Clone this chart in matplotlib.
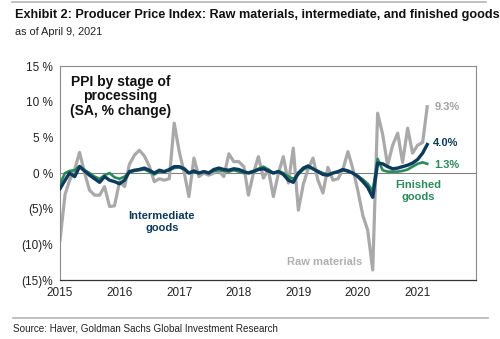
import matplotlib
matplotlib.use("Agg")
import matplotlib.pyplot as plt
import matplotlib.dates as mdates
import pandas as pd

plt.rcParams['font.family'] = ['Liberation Sans', 'DejaVu Sans']

# monthly, Jan 2015 - Mar 2021 (SA, % change)
months = pd.date_range("2015-01-01", "2021-03-01", freq="MS")

raw_materials = [
    -9.4, -3.0, -1.0, 0.5, 2.9, 0.0, -2.4, -3.1, -3.1, -1.9, -4.7, -4.6,
    -1.2, -1.9, 1.2, 2.5, 3.2, 2.4, 1.0, -1.2, -0.8, -1.0, -0.8, 7.0,
    3.0, 0.0, -3.3, 2.1, -0.5, 0.0, -0.3, 0.0, 0.3, -0.5, 2.7, 1.6,
    1.6, 0.9, -3.1, 0.0, 2.3, -0.7, 0.5, -3.3, 0.0, 2.3, -1.4, 3.5,
    -5.2, -1.5, 0.5, 2.1, -1.0, -2.8, 0.8, -1.0, -0.8, 0.5, 3.0, 0.6,
    -2.5, -6.0, -8.0, -13.6, 8.4, 5.4, 1.1, 3.9, 5.6, 1.5, 6.3, 2.8,
    3.9, 4.3, 9.3,
]
intermediate = [
    -2.2, -1.0, 0.0, -0.5, 0.9, 0.3, -0.3, -0.8, -1.3, -0.5, -1.0, -1.2,
    -1.5, -1.0, 0.2, 0.4, 0.5, 0.7, 0.4, 0.0, 0.4, 0.2, 0.5, 0.9,
    0.9, 0.6, 0.0, 0.3, 0.0, 0.2, 0.0, 0.5, 0.7, 0.5, 0.4, 0.6,
    0.5, 0.2, 0.0, 0.2, 0.5, 0.6, 0.3, 0.0, 0.2, -0.2, -1.0, -1.3,
    0.0, 0.7, 1.0, 0.6, 0.2, -0.2, -0.3, 0.0, 0.2, 0.5, 0.3, 0.0,
    -0.5, -1.2, -2.0, -3.4, 1.4, 1.3, 0.9, 0.6, 0.7, 0.9, 1.1, 1.4,
    1.9, 2.8, 4.0,
]
finished = [
    -1.5, 0.0, 0.3, 0.4, 1.0, 0.4, 0.0, -0.5, -0.8, -0.3, 0.0, -0.6,
    -0.8, -0.5, 0.1, 0.3, 0.4, 0.5, 0.2, -0.2, 0.2, 0.2, 0.4, 0.7,
    0.8, 0.5, 0.0, 0.1, 0.0, 0.2, 0.1, 0.3, 0.4, 0.3, 0.2, 0.4,
    0.2, 0.0, 0.1, 0.3, 0.6, 0.9, 0.5, 0.0, 0.3, 0.0, -0.5, -0.8,
    -0.2, 0.5, 0.8, 0.6, 0.3, 0.0, -0.2, 0.0, 0.2, 0.4, 0.2, 0.0,
    -0.4, -0.9, -1.5, -2.5, 2.0, 0.4, 0.2, 0.2, 0.2, 0.3, 0.5, 0.9,
    1.3, 1.5, 1.3,
]

years = list(range(2015, 2022))
yticks = [15, 10, 5, 0, -5, -10, -15]
ytick_labels = ["15 %", "10 %", "5 %", "0 %", "(5)%", "(10)%", "(15)%"]

GRAY = "#a9a9a9"
NAVY = "#0e3a5c"
GREEN = "#2a8a5c"

fig = plt.figure(figsize=(5.0, 3.39), dpi=100)
ax = fig.add_axes([0.12, 0.174, 0.832, 0.631])

ax.axhline(0, color="#808080", lw=0.8, zorder=1)
ax.plot(months, raw_materials, color=GRAY, lw=2.3, zorder=2)
ax.plot(months, finished, color=GREEN, lw=1.9, zorder=3)
ax.plot(months, intermediate, color=NAVY, lw=2.4, zorder=4)

ax.set_xlim(pd.Timestamp("2015-01-01"), pd.Timestamp("2021-12-25"))
ax.set_ylim(-15, 15)
ax.set_xticks([pd.Timestamp(f"{y}-01-01") for y in years])
ax.xaxis.set_major_formatter(mdates.DateFormatter("%Y"))
ax.set_yticks(yticks)
ax.set_yticklabels(ytick_labels)
ax.tick_params(length=0, labelsize=8.5, colors="#222222", pad=5)

for s in ["left", "top", "right"]:
    ax.spines[s].set_color("#8c8c8c")
    ax.spines[s].set_linewidth(0.8)
ax.spines["bottom"].set_color("#333333")
ax.spines["bottom"].set_linewidth(0.9)

# labels inside the plot
ax.text(0.145, 0.96, "PPI by stage of\nprocessing\n(SA, % change)", transform=ax.transAxes,
        ha="center", va="top", fontsize=10, fontweight="bold", color="#111111", linespacing=1.05)
ax.text(0.245, 0.27, "Intermediate\ngoods", transform=ax.transAxes, ha="center", va="center",
        fontsize=8, fontweight="bold", color=NAVY, linespacing=1.25)
ax.text(0.637, 0.085, "Raw materials", transform=ax.transAxes, ha="center", va="center",
        fontsize=8, fontweight="bold", color="#b0b0b0")
ax.text(0.862, 0.418, "Finished\ngoods", transform=ax.transAxes, ha="center", va="center",
        fontsize=8, fontweight="bold", color=GREEN, linespacing=1.25)

ax.annotate("9.3%", (months[-1], raw_materials[-1]), xytext=(5, 0), textcoords="offset points",
            ha="left", va="center", fontsize=8, fontweight="bold", color="#a0a0a0")
ax.annotate("4.0%", (months[-1], intermediate[-1]), xytext=(4, 1), textcoords="offset points",
            ha="left", va="center", fontsize=8, fontweight="bold", color=NAVY)
ax.annotate("1.3%", (months[-1], finished[-1]), xytext=(5, -1), textcoords="offset points",
            ha="left", va="center", fontsize=8, fontweight="bold", color=GREEN)

# header / footer
fig.add_artist(plt.Line2D([0.024, 0.972], [0.994, 0.994], color="#b5b5b5", lw=1.2))
fig.text(0.03, 0.957, "Exhibit 2: Producer Price Index: Raw materials, intermediate, and finished goods",
         ha="left", va="center", fontsize=9.1, fontweight="bold", color="#111111")
fig.text(0.03, 0.906, "as of April 9, 2021", ha="left", va="center", fontsize=7.8, color="#222222")
fig.add_artist(plt.Line2D([0.026, 0.976], [0.062, 0.062], color="#b5b5b5", lw=1.2))
fig.text(0.026, 0.032, "Source: Haver, Goldman Sachs Global Investment Research",
         ha="left", va="center", fontsize=7.1, color="#222222")

fig.savefig("out.png", dpi=100)
